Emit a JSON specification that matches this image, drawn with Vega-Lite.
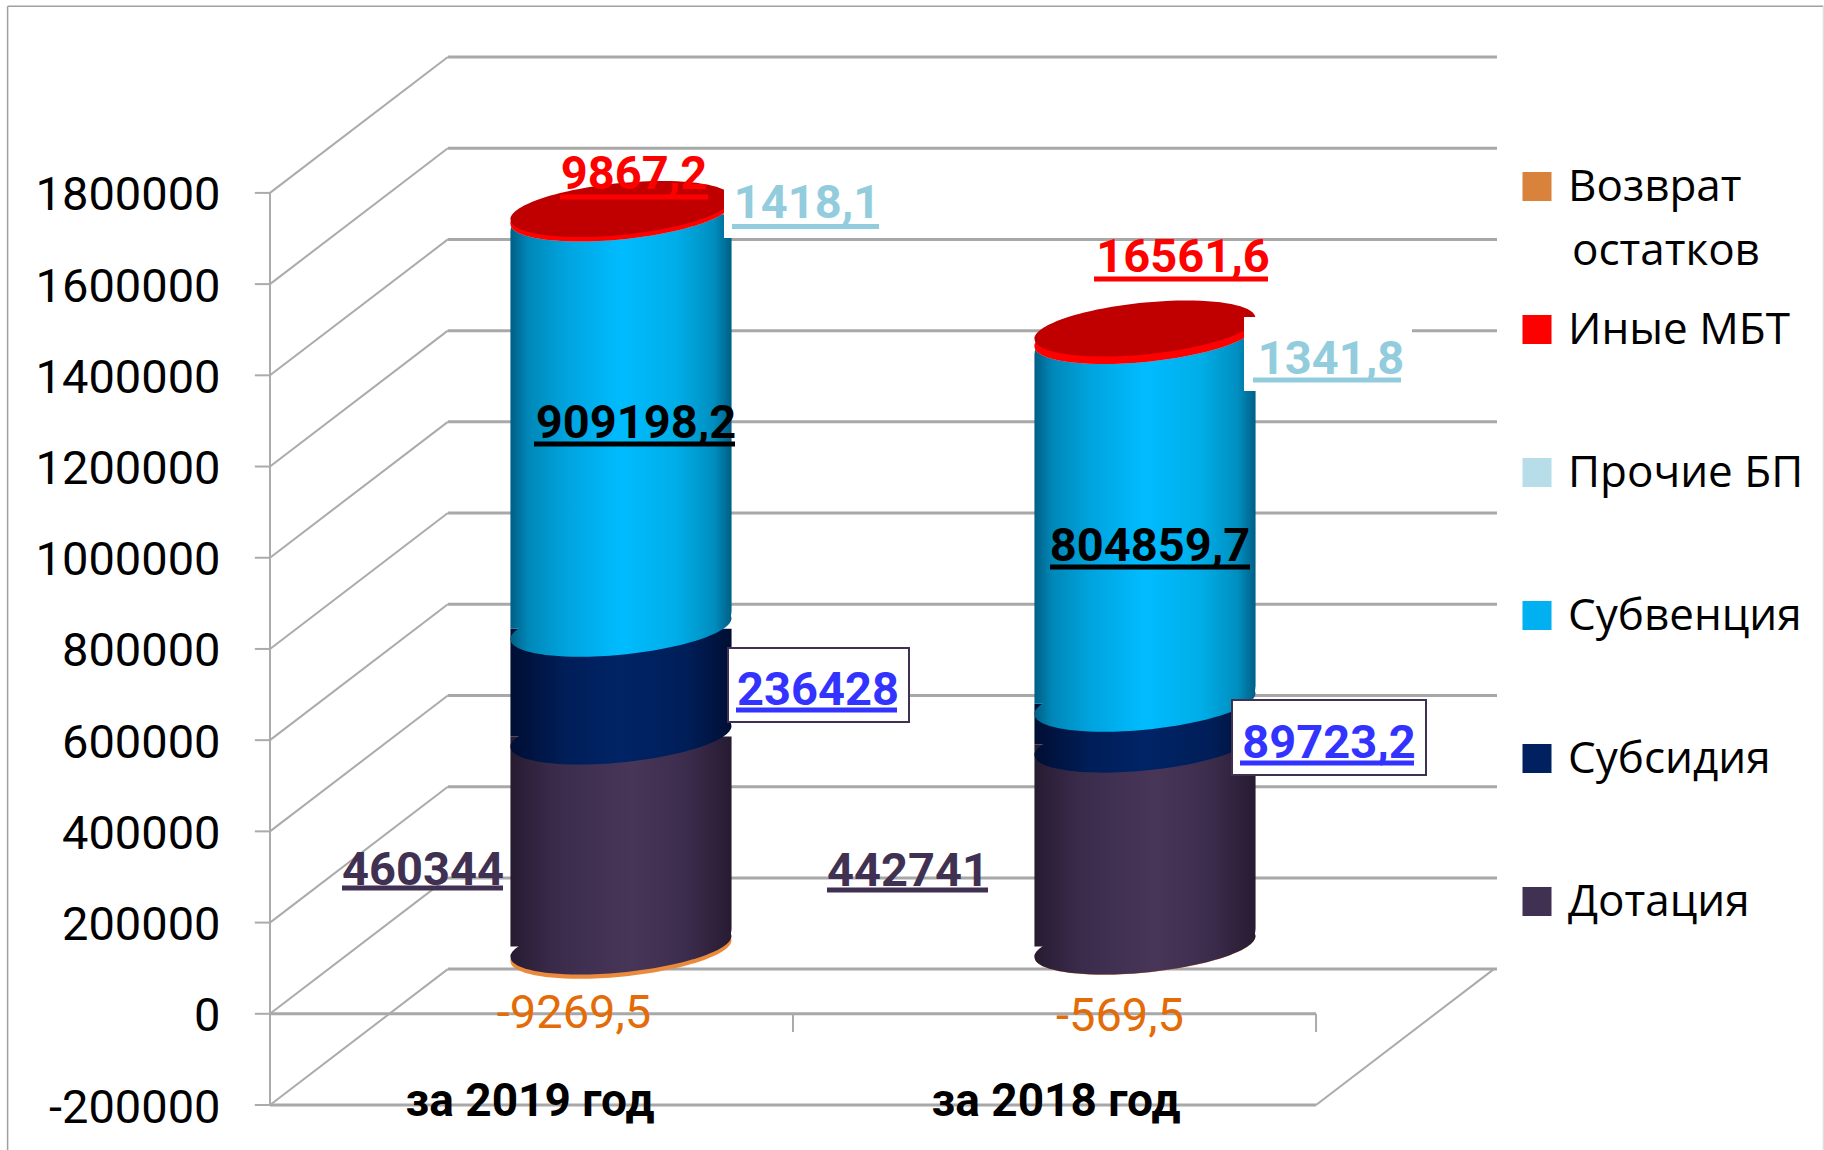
{"$schema":"https://vega.github.io/schema/vega-lite/v6.json","width":1227,"height":1048,"autosize":"none","padding":{"left":270,"top":57,"right":327,"bottom":45},"background":"white","config":{"view":{"stroke":null},"font":"Roboto"},
"datasets":{
"bars":[
{"cat":"за 2019 год","series":"Дотация","order":1,"value":460344,"label":"460344"},
{"cat":"за 2019 год","series":"Субсидия","order":2,"value":236428,"label":"236428"},
{"cat":"за 2019 год","series":"Субвенция","order":3,"value":909198.2,"label":"909198,2"},
{"cat":"за 2019 год","series":"Прочие БП","order":4,"value":1418.1,"label":"1418,1"},
{"cat":"за 2019 год","series":"Иные МБТ","order":5,"value":9867.2,"label":"9867,2"},
{"cat":"за 2019 год","series":"Возврат остатков","order":6,"value":-9269.5,"label":"-9269,5"},
{"cat":"за 2018 год","series":"Дотация","order":1,"value":442741,"label":"442741"},
{"cat":"за 2018 год","series":"Субсидия","order":2,"value":89723.2,"label":"89723,2"},
{"cat":"за 2018 год","series":"Субвенция","order":3,"value":804859.7,"label":"804859,7"},
{"cat":"за 2018 год","series":"Прочие БП","order":4,"value":1341.8,"label":"1341,8"},
{"cat":"за 2018 год","series":"Иные МБТ","order":5,"value":16561.6,"label":"16561,6"},
{"cat":"за 2018 год","series":"Возврат остатков","order":6,"value":-569.5,"label":"-569,5"}],
"grid":[
{"x":0.34,"x2":2.346,"y":98000,"y2":98000},{"x":0.34,"x2":2.346,"y":298000,"y2":298000},{"x":0.34,"x2":2.346,"y":498000,"y2":498000},{"x":0.34,"x2":2.346,"y":698000,"y2":698000},{"x":0.34,"x2":2.346,"y":898000,"y2":898000},{"x":0.34,"x2":2.346,"y":1098000,"y2":1098000},{"x":0.34,"x2":2.346,"y":1298000,"y2":1298000},{"x":0.34,"x2":2.346,"y":1498000,"y2":1498000},{"x":0.34,"x2":2.346,"y":1698000,"y2":1698000},{"x":0.34,"x2":2.346,"y":1898000,"y2":1898000},{"x":0.34,"x2":2.346,"y":2098000,"y2":2098000},
{"x":0,"x2":2,"y":0,"y2":0},{"x":0,"x2":2,"y":-200000,"y2":-200000}],
"diagonals":[
{"x":0,"x2":0.34,"y":-200000,"y2":98000},{"x":0,"x2":0.34,"y":0,"y2":298000},{"x":0,"x2":0.34,"y":200000,"y2":498000},{"x":0,"x2":0.34,"y":400000,"y2":698000},{"x":0,"x2":0.34,"y":600000,"y2":898000},{"x":0,"x2":0.34,"y":800000,"y2":1098000},{"x":0,"x2":0.34,"y":1000000,"y2":1298000},{"x":0,"x2":0.34,"y":1200000,"y2":1498000},{"x":0,"x2":0.34,"y":1400000,"y2":1698000},{"x":0,"x2":0.34,"y":1600000,"y2":1898000},{"x":0,"x2":0.34,"y":1800000,"y2":2098000},
{"x":2,"x2":2.34,"y":-200000,"y2":98000},
{"x":0,"x2":0,"y":-200000,"y2":1800000},
{"x":0,"x2":0,"y":0,"y2":-40000},{"x":1,"x2":1,"y":0,"y2":-40000},{"x":2,"x2":2,"y":0,"y2":-40000},
{"x":-0.029,"x2":0,"y":-200000,"y2":-200000},{"x":-0.029,"x2":0,"y":0,"y2":0},{"x":-0.029,"x2":0,"y":200000,"y2":200000},{"x":-0.029,"x2":0,"y":400000,"y2":400000},{"x":-0.029,"x2":0,"y":600000,"y2":600000},{"x":-0.029,"x2":0,"y":800000,"y2":800000},{"x":-0.029,"x2":0,"y":1000000,"y2":1000000},{"x":-0.029,"x2":0,"y":1200000,"y2":1200000},{"x":-0.029,"x2":0,"y":1400000,"y2":1400000},{"x":-0.029,"x2":0,"y":1600000,"y2":1600000},{"x":-0.029,"x2":0,"y":1800000,"y2":1800000}],
"frame":[{"x":-0.5017,"x2":2.97,"y":2209400,"y2":2209400},{"x":-0.5017,"x2":-0.5017,"y":2209400,"y2":-320000}],
"frameRight":[{"x":2.97,"x2":2.97,"y":2209400,"y2":-320000}]
},
"data":{"name":"bars"},
"transform":[{"stack":"value","groupby":["cat"],"sort":[{"field":"order","order":"ascending"}],"as":["y0","y1"]}],
"resolve":{"scale":{"x":"independent","y":"independent"},"axis":{"x":"independent","y":"independent"}},
"layer":[
{"encoding":{
"x":{"field":"x","type":"quantitative","scale":{"domain":[0,2.346],"nice":false,"zero":false},"axis":null},
"y":{"field":"y","type":"quantitative","scale":{"domain":[-200000,2098000],"nice":false,"zero":false},"axis":{"values":[-200000,0,200000,400000,600000,800000,1000000,1200000,1400000,1600000,1800000],"format":"d","labelExpr":"replace(datum.label, '−', '-')","title":null,"grid":false,"domain":false,"ticks":false,"labelFontSize":47,"labelFont":"Roboto","labelColor":"#000000","labelPadding":50,"labelOffset":3,"labelLimit":400,"labelOverlap":false}}},
"layer":[
{"data":{"name":"frame"},"mark":{"type":"rule","color":"#A0A0A0","strokeWidth":1.5},"encoding":{"x2":{"field":"x2"},"y2":{"field":"y2"}}},
{"data":{"name":"frameRight"},"mark":{"type":"rule","color":"#E0E0E0","strokeWidth":1.5},"encoding":{"x2":{"field":"x2"},"y2":{"field":"y2"}}},
{"data":{"name":"grid"},"mark":{"type":"rule","color":"#A8A8A8","strokeWidth":3},"encoding":{"x2":{"field":"x2"},"y2":{"field":"y2"}}},
{"data":{"name":"diagonals"},"mark":{"type":"rule","color":"#ABABAB","strokeWidth":2},"encoding":{"x2":{"field":"x2"},"y2":{"field":"y2"}}}
]},
{"encoding":{
"x":{"field":"cat","type":"nominal","sort":null,"scale":{"domain":["за 2019 год","за 2018 год"],"range":[89,1137],"paddingInner":0.578,"paddingOuter":0.289},"axis":null},
"y":{"field":"y1","type":"quantitative","scale":{"domain":[-347588,1950658],"nice":false,"zero":false},"axis":null}},
"layer":[
{"mark":{"type":"bar","opacity":0},"encoding":{"y2":{"field":"y0"},"fill":{"field":"series","type":"nominal","scale":{"domain":["Возврат остатков","Иные МБТ","Прочие БП","Субвенция","Субсидия","Дотация"],"range":["#D9823B","#FF0000","#B7DEE8","#00B0F0","#002060","#403152"]},"legend":{"orient":"none","legendX":1245,"legendY":58,"title":null,"symbolType":"square","symbolSize":841,"symbolStrokeWidth":0,"symbolOpacity":1,"labelFont":"Open Sans","labelFontSize":44,"labelColor":"#000000","labelOffset":9,"labelLimit":400,"clipHeight":143,"rowPadding":0,"padding":0,"labelBaseline":"alphabetic","labelExpr":"datum.label === 'Возврат остатков' ? 'Возврат' : datum.label","encoding":{"labels":{"dy":{"value":14}}}}}}},
{"transform":[{"filter":"datum.series === 'Возврат остатков'"}],"mark":{"type":"point","filled":true,"opacity":1,"size":48841,"color":"#E98A3C","shape":"M-1,0.095C-1,0.2248,-0.5523,0.2875,0,0.235C0.5523,0.1825,1,0.0348,1,-0.095C1,-0.2248,0.5523,-0.2875,0,-0.235C-0.5523,-0.1825,-1,-0.0348,-1,0.095Z"}},
{"transform":[{"filter":"datum.series === 'Дотация'"}],"layer":[
{"mark":{"type":"point","filled":true,"opacity":1,"size":48841,"color":{"gradient":"linear","x1":0,"x2":1,"y1":0,"y2":0,"stops":[{"offset":0,"color":"#271B32"},{"offset":0.2,"color":"#3A2B4B"},{"offset":0.55,"color":"#483659"},{"offset":0.8,"color":"#3C2C4C"},{"offset":1,"color":"#271B32"}]},"shape":"M-1,0.095C-1,0.2248,-0.5523,0.2875,0,0.235C0.5523,0.1825,1,0.0348,1,-0.095C1,-0.2248,0.5523,-0.2875,0,-0.235C-0.5523,-0.1825,-1,-0.0348,-1,0.095Z"},"encoding":{"y":{"field":"y0","type":"quantitative","scale":{"domain":[-347588,1950658],"nice":false,"zero":false},"axis":null}}},
{"mark":{"type":"bar","cornerRadiusBottomRight":18,"color":{"gradient":"linear","x1":0,"x2":1,"y1":0,"y2":0,"stops":[{"offset":0,"color":"#271B32"},{"offset":0.2,"color":"#3A2B4B"},{"offset":0.55,"color":"#483659"},{"offset":0.8,"color":"#3C2C4C"},{"offset":1,"color":"#271B32"}]}},"encoding":{"y2":{"field":"y0"}}}]},
{"transform":[{"filter":"datum.series === 'Субсидия'"}],"layer":[
{"mark":{"type":"point","filled":true,"opacity":1,"size":48841,"color":{"gradient":"linear","x1":0,"x2":1,"y1":0,"y2":0,"stops":[{"offset":0,"color":"#000E33"},{"offset":0.25,"color":"#001E58"},{"offset":0.5,"color":"#002466"},{"offset":0.8,"color":"#001E58"},{"offset":1,"color":"#000E33"}]},"shape":"M-1,0.095C-1,0.2248,-0.5523,0.2875,0,0.235C0.5523,0.1825,1,0.0348,1,-0.095C1,-0.2248,0.5523,-0.2875,0,-0.235C-0.5523,-0.1825,-1,-0.0348,-1,0.095Z"},"encoding":{"y":{"field":"y0","type":"quantitative","scale":{"domain":[-347588,1950658],"nice":false,"zero":false},"axis":null}}},
{"mark":{"type":"bar","cornerRadiusBottomRight":18,"color":{"gradient":"linear","x1":0,"x2":1,"y1":0,"y2":0,"stops":[{"offset":0,"color":"#000E33"},{"offset":0.25,"color":"#001E58"},{"offset":0.5,"color":"#002466"},{"offset":0.8,"color":"#001E58"},{"offset":1,"color":"#000E33"}]}},"encoding":{"y2":{"field":"y0"}}}]},
{"transform":[{"filter":"datum.series === 'Субвенция'"}],"layer":[
{"mark":{"type":"point","filled":true,"opacity":1,"size":48841,"color":{"gradient":"linear","x1":0,"x2":1,"y1":0,"y2":0,"stops":[{"offset":0,"color":"#005F85"},{"offset":0.08,"color":"#0087B8"},{"offset":0.25,"color":"#00A3DE"},{"offset":0.5,"color":"#00BCFF"},{"offset":0.75,"color":"#00AEE8"},{"offset":0.92,"color":"#008EBF"},{"offset":1,"color":"#005F85"}]},"shape":"M-1,0.095C-1,0.2248,-0.5523,0.2875,0,0.235C0.5523,0.1825,1,0.0348,1,-0.095C1,-0.2248,0.5523,-0.2875,0,-0.235C-0.5523,-0.1825,-1,-0.0348,-1,0.095Z"},"encoding":{"y":{"field":"y0","type":"quantitative","scale":{"domain":[-347588,1950658],"nice":false,"zero":false},"axis":null}}},
{"mark":{"type":"bar","cornerRadiusTopLeft":18,"cornerRadiusBottomRight":18,"color":{"gradient":"linear","x1":0,"x2":1,"y1":0,"y2":0,"stops":[{"offset":0,"color":"#005F85"},{"offset":0.08,"color":"#0087B8"},{"offset":0.25,"color":"#00A3DE"},{"offset":0.5,"color":"#00BCFF"},{"offset":0.75,"color":"#00AEE8"},{"offset":0.92,"color":"#008EBF"},{"offset":1,"color":"#005F85"}]}},"encoding":{"y2":{"field":"y0"}}}]},
{"transform":[{"filter":"datum.series === 'Прочие БП'"}],"mark":{"type":"point","filled":true,"opacity":1,"size":48841,"color":"#B7DEE8","shape":"M-1,0.095C-1,0.2248,-0.5523,0.2875,0,0.235C0.5523,0.1825,1,0.0348,1,-0.095C1,-0.2248,0.5523,-0.2875,0,-0.235C-0.5523,-0.1825,-1,-0.0348,-1,0.095Z"}},
{"transform":[{"filter":"datum.series === 'Иные МБТ'"}],"layer":[
{"mark":{"type":"point","filled":true,"opacity":1,"size":48841,"color":"#FF0000","shape":"M-1,0.095C-1,0.2248,-0.5523,0.2875,0,0.235C0.5523,0.1825,1,0.0348,1,-0.095C1,-0.2248,0.5523,-0.2875,0,-0.235C-0.5523,-0.1825,-1,-0.0348,-1,0.095Z"},"encoding":{"y":{"field":"y0","type":"quantitative","scale":{"domain":[-347588,1950658],"nice":false,"zero":false},"axis":null}}},
{"mark":{"type":"point","filled":true,"opacity":1,"size":48841,"color":"#C00000","shape":"M-1,0.095C-1,0.2248,-0.5523,0.2875,0,0.235C0.5523,0.1825,1,0.0348,1,-0.095C1,-0.2248,0.5523,-0.2875,0,-0.235C-0.5523,-0.1825,-1,-0.0348,-1,0.095Z"}}]},
{"transform":[{"filter":"datum.cat === 'за 2019 год' && datum.series === 'Иные МБТ'"}],"layer":[
{"mark":{"type":"text","font":"Roboto","fontWeight":"bold","fontSize":47,"color":"#FF0000","baseline":"middle","dx":13,"dy":-34},"encoding":{"text":{"field":"label"}}},
{"mark":{"type":"rect","color":"#FF0000","width":148,"height":5,"xOffset":13,"yOffset":-12}}]},
{"transform":[{"filter":"datum.cat === 'за 2019 год' && datum.series === 'Прочие БП'"}],"layer":[
{"mark":{"type":"rect","color":"#FFFFFF","width":169,"height":50,"xOffset":187.5,"yOffset":-0.5}},
{"mark":{"type":"text","font":"Roboto","fontWeight":"bold","fontSize":47,"color":"#93CDDD","baseline":"middle","dx":186,"dy":-9.5},"encoding":{"text":{"field":"label"}}},
{"mark":{"type":"rect","color":"#93CDDD","width":147,"height":5,"xOffset":184.5,"yOffset":13}}]},
{"transform":[{"filter":"datum.cat === 'за 2019 год' && datum.series === 'Субвенция'"}],"layer":[
{"mark":{"type":"text","font":"Roboto","fontWeight":"bold","fontSize":47,"color":"#000000","baseline":"middle","dx":15,"dy":209.8},"encoding":{"text":{"field":"label"}}},
{"mark":{"type":"rect","color":"#000000","width":201,"height":5,"xOffset":13.5,"yOffset":229.8}}]},
{"transform":[{"filter":"datum.cat === 'за 2019 год' && datum.series === 'Субсидия'"}],"layer":[
{"mark":{"type":"rect","color":"#FFFFFF","stroke":"#403152","strokeWidth":2,"width":181,"height":74,"xOffset":197.5,"yOffset":56.2}},
{"mark":{"type":"text","font":"Roboto","fontWeight":"bold","fontSize":47,"color":"#3333FF","baseline":"middle","dx":197,"dy":62.2},"encoding":{"text":{"field":"label"}}},
{"mark":{"type":"rect","color":"#3333FF","width":161,"height":5,"xOffset":195.5,"yOffset":81.2}}]},
{"transform":[{"filter":"datum.cat === 'за 2019 год' && datum.series === 'Дотация'"}],"layer":[
{"mark":{"type":"text","font":"Roboto","fontWeight":"bold","fontSize":47,"color":"#403152","baseline":"middle","dx":-198,"dy":134.4},"encoding":{"text":{"field":"label"}}},
{"mark":{"type":"rect","color":"#403152","width":161,"height":5,"xOffset":-198.5,"yOffset":151.4}},
{"mark":{"type":"text","font":"Roboto","fontWeight":"bold","fontSize":46,"color":"#000000","baseline":"middle","dx":-91,"dy":365.4},"encoding":{"text":{"field":"cat"}}}]},
{"transform":[{"filter":"datum.cat === 'за 2019 год' && datum.series === 'Возврат остатков'"}],"layer":[
{"mark":{"type":"text","font":"Roboto","fontSize":47,"color":"#E36C09","baseline":"middle","dx":-47,"dy":63.3},"encoding":{"text":{"field":"label"}}},
{"mark":{"type":"text","text":"остатков","font":"Open Sans","fontSize":44,"color":"#000000","align":"left","baseline":"alphabetic","dx":951,"dy":-685.7}}]},
{"transform":[{"filter":"datum.cat === 'за 2018 год' && datum.series === 'Иные МБТ'"}],"layer":[
{"mark":{"type":"text","font":"Roboto","fontWeight":"bold","fontSize":47,"color":"#FF0000","baseline":"middle","dx":38,"dy":-70.5},"encoding":{"text":{"field":"label"}}},
{"mark":{"type":"rect","color":"#FF0000","width":174,"height":5,"xOffset":36,"yOffset":-49.5}}]},
{"transform":[{"filter":"datum.cat === 'за 2018 год' && datum.series === 'Прочие БП'"}],"layer":[
{"mark":{"type":"rect","color":"#FFFFFF","width":168,"height":74,"xOffset":183,"yOffset":17.9}},
{"mark":{"type":"text","font":"Roboto","fontWeight":"bold","fontSize":47,"color":"#93CDDD","baseline":"middle","dx":186,"dy":23.9},"encoding":{"text":{"field":"label"}}},
{"mark":{"type":"rect","color":"#93CDDD","width":148,"height":5,"xOffset":182,"yOffset":43.9}}]},
{"transform":[{"filter":"datum.cat === 'за 2018 год' && datum.series === 'Субвенция'"}],"layer":[
{"mark":{"type":"text","font":"Roboto","fontWeight":"bold","fontSize":47,"color":"#000000","baseline":"middle","dx":5,"dy":210.3},"encoding":{"text":{"field":"label"}}},
{"mark":{"type":"rect","color":"#000000","width":200,"height":5,"xOffset":5,"yOffset":230.3}}]},
{"transform":[{"filter":"datum.cat === 'за 2018 год' && datum.series === 'Субсидия'"}],"layer":[
{"mark":{"type":"rect","color":"#FFFFFF","stroke":"#403152","strokeWidth":2,"width":194,"height":75,"xOffset":184,"yOffset":33.8}},
{"mark":{"type":"text","font":"Roboto","fontWeight":"bold","fontSize":47,"color":"#3333FF","baseline":"middle","dx":184,"dy":40.3},"encoding":{"text":{"field":"label"}}},
{"mark":{"type":"rect","color":"#3333FF","width":174,"height":5,"xOffset":182,"yOffset":59.3}}]},
{"transform":[{"filter":"datum.cat === 'за 2018 год' && datum.series === 'Дотация'"}],"layer":[
{"mark":{"type":"text","font":"Roboto","fontWeight":"bold","fontSize":47,"color":"#403152","baseline":"middle","dx":-237,"dy":127.4},"encoding":{"text":{"field":"label"}}},
{"mark":{"type":"rect","color":"#403152","width":161,"height":5,"xOffset":-237.5,"yOffset":145.4}},
{"mark":{"type":"text","font":"Roboto","fontWeight":"bold","fontSize":46,"color":"#000000","baseline":"middle","dx":-89,"dy":357.4},"encoding":{"text":{"field":"cat"}}}]},
{"transform":[{"filter":"datum.cat === 'за 2018 год' && datum.series === 'Возврат остатков'"}],"mark":{"type":"text","font":"Roboto","fontSize":47,"color":"#E36C09","baseline":"middle","dx":-25,"dy":70.2},"encoding":{"text":{"field":"label"}}}
]}
]}
